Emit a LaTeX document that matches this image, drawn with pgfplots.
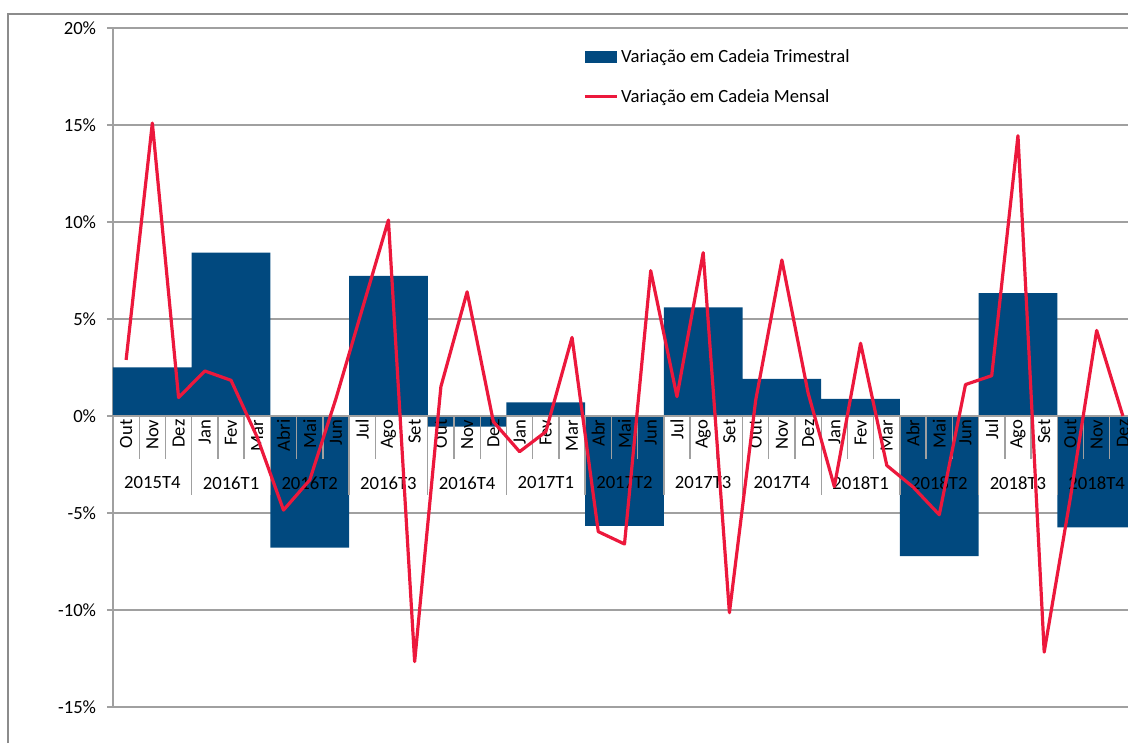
\documentclass[border=0pt]{standalone}
\usepackage{fontspec}
\setmainfont{Carlito}
\usepackage{pgfplots}
\pgfplotsset{compat=1.18}
\definecolor{barblue}{RGB}{1,73,127}
\definecolor{linered}{RGB}{236,24,60}
\definecolor{gridgray}{RGB}{160,160,160}
\definecolor{bordergray}{RGB}{140,140,140}
\newcommand\fnt{\fontsize{14}{16.8}\selectfont}
\newcommand\qtr[5]{%
 \draw[gridgray, line width=1pt] (axis cs:#1,0) -- ++(0pt,-59.25pt);%
 \draw[gridgray, line width=1pt] (axis cs:{#1+1},0) -- ++(0pt,-32.25pt);%
 \draw[gridgray, line width=1pt] (axis cs:{#1+2},0) -- ++(0pt,-32.25pt);%
 \node[yshift=-2.5pt, rotate=90, anchor=east, inner sep=0pt, font=\fnt] at (axis cs:{#1+0.5},0) {#2};%
 \node[yshift=-2.5pt, rotate=90, anchor=east, inner sep=0pt, font=\fnt] at (axis cs:{#1+1.5},0) {#3};%
 \node[yshift=-2.5pt, rotate=90, anchor=east, inner sep=0pt, font=\fnt] at (axis cs:{#1+2.5},0) {#4};%
 \node[yshift=-50.25pt, inner sep=0pt, font=\fnt] at (axis cs:{#1+1.5},0) {#5};%
}
\begin{document}
\begin{tikzpicture}
\useasboundingbox (0pt,0pt) rectangle (846pt,557.25pt);
\begin{axis}[
  at={(84.75pt,27pt)}, anchor=south west,
  scale only axis, width=767.25pt, height=509.25pt,
  xmin=0, xmax=39, ymin=-15, ymax=20,
  axis x line=none, axis y line*=left,
  axis line style={gridgray, line width=1pt},
  ytick={-15,-10,-5,0,5,10,15,20},
  yticklabels={-15\%,-10\%,-5\%,0\%,5\%,10\%,15\%,20\%},
  yticklabel style={font=\fnt, inner sep=0pt, anchor=east, xshift=-8pt},
  tick align=outside, major tick length=4.5pt,
  ytick style={gridgray, line width=1pt},
  ymajorgrids, grid style={gridgray, line width=1pt},
  legend style={at={(0.4594,0.9728)}, anchor=north west, draw=none, fill=none,
    inner sep=0pt, row sep=14.7pt, font=\fnt, cells={anchor=west}},
  legend cell align=left,
]
\addplot[ybar interval, fill=barblue, draw=none,
  legend image code/.code={\fill[barblue] (0pt,-4.3pt) rectangle (24pt,4.3pt);}]
  coordinates {(0,2.51)(3,8.42)(6,-6.79)(9,7.22)(12,-0.55)(15,0.70)(18,-5.67)
  (21,5.60)(24,1.91)(27,0.88)(30,-7.22)(33,6.34)(36,-5.74)(39,-5.74)};
\addlegendentry{Variação em Cadeia Trimestral}
\draw[gridgray, line width=1pt] (axis cs:0,0) -- (axis cs:39,0);
\qtr{0}{Out}{Nov}{Dez}{2015T4}
\qtr{3}{Jan}{Fev}{Mar}{2016T1}
\qtr{6}{Abri}{Mai}{Jun}{2016T2}
\qtr{9}{Jul}{Ago}{Set}{2016T3}
\qtr{12}{Out}{Nov}{Dez}{2016T4}
\qtr{15}{Jan}{Fev}{Mar}{2017T1}
\qtr{18}{Abr}{Mai}{Jun}{2017T2}
\qtr{21}{Jul}{Ago}{Set}{2017T3}
\qtr{24}{Out}{Nov}{Dez}{2017T4}
\qtr{27}{Jan}{Fev}{Mar}{2018T1}
\qtr{30}{Abr}{Mai}{Jun}{2018T2}
\qtr{33}{Jul}{Ago}{Set}{2018T3}
\qtr{36}{Out}{Nov}{Dez}{2018T4}
\addplot[linered, line width=2.4pt, line join=round,
  legend image code/.code={\draw[linered, line width=2.4pt] (0pt,0pt) -- (24pt,0pt);}]
  coordinates {(0.5,2.89)(1.5,15.1)(2.5,0.95)(3.5,2.32)(4.5,1.84)(5.5,-1.1)
  (6.5,-4.85)(7.5,-3.3)(8.5,0.9)(9.5,5.5)(10.5,10.1)(11.5,-12.66)
  (12.5,1.51)(13.5,6.4)(14.5,-0.29)(15.5,-1.84)(16.5,-0.81)(17.5,4.05)
  (18.5,-5.96)(19.5,-6.6)(20.5,7.49)(21.5,1.0)(22.5,8.42)(23.5,-10.14)
  (24.5,0.8)(25.5,8.04)(26.5,1.18)(27.5,-3.64)(28.5,3.75)(29.5,-2.55)
  (30.5,-3.66)(31.5,-5.09)(32.5,1.62)(33.5,2.08)(34.5,14.45)(35.5,-12.17)
  (36.5,-4.2)(37.5,4.41)(38.5,0.0)};
\addlegendentry{Variação em Cadeia Mensal}
\end{axis}
\draw[bordergray, line width=1pt] (6pt,0pt) -- (6pt,546.75pt) -- (850pt,546.75pt);
\end{tikzpicture}
\end{document}
